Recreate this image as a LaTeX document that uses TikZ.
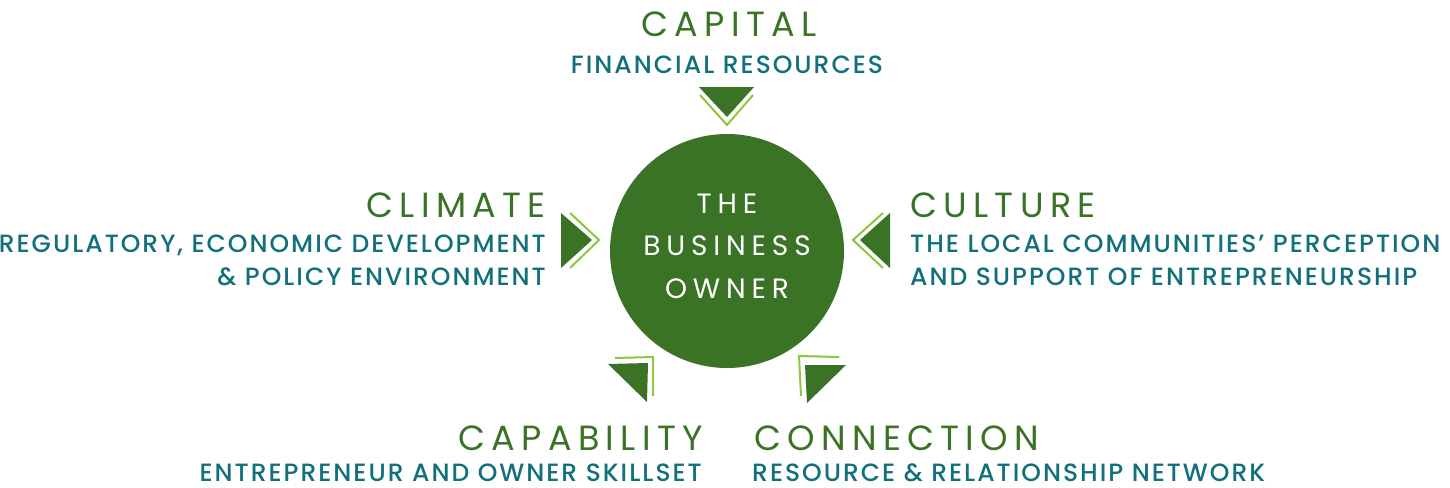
\documentclass[tikz,border=0pt]{standalone}
\usepackage{fontspec}
\newfontfamily\headfont{Poppins}[LetterSpace=18]
\newfontfamily\subfont{Poppins Medium}[LetterSpace=8]
\newfontfamily\ownfont{Poppins}[LetterSpace=21]
\definecolor{dg}{HTML}{3A7226}
\definecolor{tealx}{HTML}{11707A}
\definecolor{lg}{HTML}{8DC63F}
\tikzset{
  head/.style={inner sep=0pt, text=dg, text depth=0pt, font=\headfont\fontsize{35}{35}\selectfont},
  sub/.style={inner sep=0pt, text=tealx, text depth=0pt, font=\subfont\fontsize{25}{25}\selectfont},
  tri/.style={fill=dg},
  chev/.style={draw=lg, line width=2pt},
}
\begin{document}
\begin{tikzpicture}[x=1pt,y=-1pt]
\useasboundingbox (0,0) rectangle (1450,487);
% centre
\node[circle, fill=dg, minimum size=234pt, inner sep=0pt] (owner) at (727,251) {};
\node[align=center, text=white, inner sep=0pt, font=\ownfont\fontsize{28}{42.5}\selectfont] (ownertext) at (727,246) {THE\\BUSINESS\\OWNER};
% top
\fill[tri] (699,87) -- (754,87) -- (727,117) -- cycle;
\draw[chev] (700,95) -- (727,125) -- (753,95);
% left
\fill[tri] (561,213) -- (561,268) -- (592,240) -- cycle;
\draw[chev] (570,213) -- (599,240) -- (570,268);
% right
\fill[tri] (890,213) -- (890,268) -- (860,240) -- cycle;
\draw[chev] (883,213) -- (853,240) -- (883,268);
% bottom left
\fill[tri] (608,364) -- (648,363) -- (647,402) -- cycle;
\draw[chev] (615,358) -- (653,357) -- (653,396);
% bottom right
\fill[tri] (805,365) -- (846,365) -- (807,403) -- cycle;
\draw[chev] (839,357) -- (799,356) -- (801,396);
% labels
\node[head, anchor=base] (capital) at (729,37) {CAPITAL};
\node[sub, anchor=base] (fin) at (727,74) {FINANCIAL RESOURCES};
\node[head, anchor=base east] (climate) at (546,217) {CLIMATE};
\node[sub, anchor=base east] (reg) at (546,252) {REGULATORY, ECONOMIC DEVELOPMENT};
\node[sub, anchor=base east] (pol) at (546,285) {\& POLICY ENVIRONMENT};
\node[head, anchor=base west] (culture) at (910,217) {CULTURE};
\node[sub, anchor=base west] (local) at (910,252) {THE LOCAL COMMUNITIES’ PERCEPTION};
\node[sub, anchor=base west] (support) at (910,285) {AND SUPPORT OF ENTREPRENEURSHIP};
\node[head, anchor=base east] (capability) at (703,450) {CAPABILITY};
\node[sub, anchor=base east] (skill) at (702,481) {ENTREPRENEUR AND OWNER SKILLSET};
\node[head, anchor=base west] (connection) at (754,450) {CONNECTION};
\node[sub, anchor=base west] (network) at (752,481) {RESOURCE \& RELATIONSHIP NETWORK};
\end{tikzpicture}
\end{document}
